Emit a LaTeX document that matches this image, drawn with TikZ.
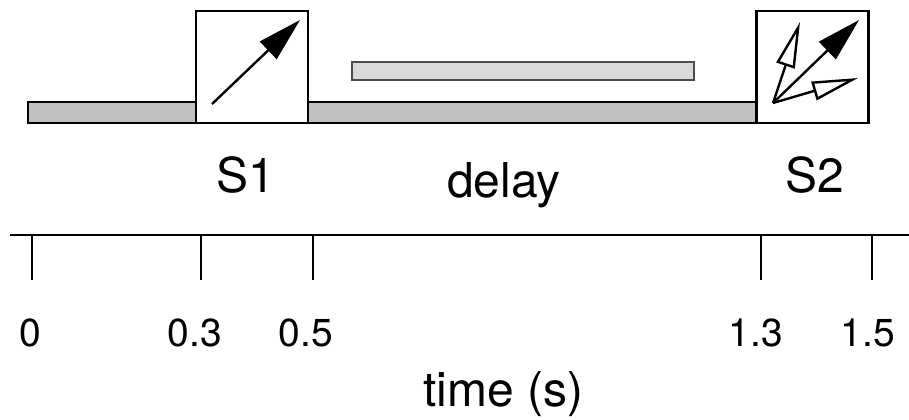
\documentclass[tikz,border=0pt]{standalone}
\usepackage{fontspec}
\setmainfont{TeX Gyre Heros}
\usetikzlibrary{arrows.meta}

\begin{document}
\begin{tikzpicture}[x=0.5pt,y=-0.5pt,
    stimbox/.style={draw=black, line width=1.3pt, fill=white, minimum width=56pt, minimum height=56pt},
    bigtext/.style={font=\fontsize{24}{28}\selectfont, anchor=base},
    ticktext/.style={font=\fontsize{19.5}{23}\selectfont, anchor=base},
    solidhead/.style={line width=1.2pt, -{Triangle[length=22pt, width=12pt]}},
    openhead/.style={line width=1.2pt, -{Triangle[open, length=23pt, width=9.5pt, line width=1.2pt]}}]
    \tikzstyle{every node}+=[inner sep=0pt]
    \useasboundingbox (0,0) rectangle (909,419);
    % bars
    \draw [black, line width=1.2pt, fill=black!25] (28,102) rectangle (757,123);
    \draw [black!70, line width=1pt, fill=black!15] (352,62) rectangle (694,80);
    % stimulus boxes
    \node (s1box) [stimbox] at (252,67) {};
    \node (s2box) [stimbox] at (812.5,67) {};
    \draw [solidhead] (212,104) -- (300,20);
    \draw [solidhead] (773,103) -- (859,20);
    \draw [openhead] (773,103) -- (800,22);
    \draw [openhead] (773,103) -- (858,78);
    % labels
    \node (s1) [bigtext] at (246,192) {S1};
    \node (delay) [bigtext] at (504,197) {delay};
    \node (s2) [bigtext] at (815,192) {S2};
    % time axis
    \draw [black, line width=1.2pt] (10,235) -- (909,235);
    \draw [black, line width=1pt] (32,235) -- (32,280);
    \draw [black, line width=1pt] (201,235) -- (201,280);
    \draw [black, line width=1pt] (313,235) -- (313,280);
    \draw [black, line width=1pt] (761,235) -- (761,280);
    \draw [black, line width=1pt] (872,235) -- (872,280);
    \node (t0) [ticktext] at (30,346) {0};
    \node (t1) [ticktext] at (195,346) {0.3};
    \node (t2) [ticktext] at (306,346) {0.5};
    \node (t3) [ticktext] at (756,346) {1.3};
    \node (t4) [ticktext] at (868,346) {1.5};
    \node (axislabel) [bigtext] at (503,406) {time (s)};
\end{tikzpicture}
\end{document}
